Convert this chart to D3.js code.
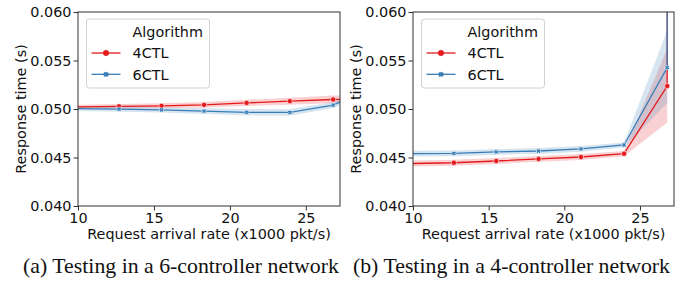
<!DOCTYPE html>
<html>
<head>
<meta charset="UTF-8" />
<script src="https://d3js.org/d3.v7.min.js"></script>
<style>
  body { margin: 0; background: #fff; }
  text { font-family: "DejaVu Sans", sans-serif; }
</style>
</head>
<body>
<div id="chart"></div>
<script>
// x positions of the measurements (x1000 pkt/s)
const rates = [9.9, 12.7, 15.5, 18.3, 21.1, 23.95, 26.8, 29.6];
const seriesNames = ["4CTL", "6CTL"];
const xTicks = [10, 15, 20, 25];
const yTicks = [0.040, 0.045, 0.050, 0.055, 0.060];

// (a) 6-controller network
const a4ctl    = [0.05022, 0.05028, 0.05033, 0.05043, 0.05063, 0.05081, 0.05098, 0.05110];
const a4ctlLo  = [0.05000, 0.05005, 0.05008, 0.05015, 0.05031, 0.05045, 0.05058, 0.05068];
const a4ctlHi  = [0.05044, 0.05051, 0.05058, 0.05071, 0.05095, 0.05117, 0.05138, 0.05152];
const a6ctl    = [0.05005, 0.04998, 0.04990, 0.04979, 0.04966, 0.04965, 0.05040, 0.05240];
const a6ctlLo  = [0.04980, 0.04972, 0.04963, 0.04949, 0.04933, 0.04930, 0.05010, 0.05190];
const a6ctlHi  = [0.05030, 0.05024, 0.05017, 0.05009, 0.04999, 0.05000, 0.05070, 0.05290];

// (b) 4-controller network (last rate shoots far off the chart)
const b4ctl    = [0.04438, 0.04446, 0.04464, 0.04485, 0.04505, 0.04539, 0.05237, 50];
const b4ctlLo  = [0.04408, 0.04416, 0.04434, 0.04455, 0.04475, 0.04512, 0.04860, null];
const b4ctlHi  = [0.04468, 0.04476, 0.04494, 0.04515, 0.04535, 0.04566, 0.05620, null];
const b6ctl    = [0.04539, 0.04543, 0.04557, 0.04567, 0.04588, 0.04629, 0.05426, 50];
const b6ctlLo  = [0.04509, 0.04513, 0.04527, 0.04537, 0.04558, 0.04604, 0.05060, null];
const b6ctlHi  = [0.04569, 0.04573, 0.04587, 0.04597, 0.04618, 0.04654, 0.05810, null];

const colors = { "4CTL": "#e41a1c", "6CTL": "#377eb8" };
const fs = 14.4;

const svg = d3.select("#chart").append("svg")
  .attr("width", 691).attr("height", 282);

const xMarker = "M-1,-2.4L0,-1.4L1,-2.4L2.4,-1L1.4,0L2.4,1L1,2.4L0,1.4L-1,2.4L-2.4,1L-1.4,0L-2.4,-1Z";

function panel(id, left, right, caption, capX, data) {
  const top = 12, bottom = 206;
  const x = d3.scaleLinear().domain([10, 27.25]).range([left, right]);
  const y = d3.scaleLinear().domain([0.040, 0.060]).range([bottom, top]);

  svg.append("clipPath").attr("id", "clip" + id)
    .append("rect").attr("x", left).attr("y", top)
    .attr("width", right - left).attr("height", bottom - top);

  const plot = svg.append("g").attr("clip-path", "url(#clip" + id + ")");

  seriesNames.forEach(name => {
    const s = data[name];
    const pts = rates.map((r, i) => ({ x: r, v: s.v[i], lo: s.lo[i], hi: s.hi[i] }));
    plot.append("path")
      .datum(pts)
      .attr("d", d3.area().defined(d => d.lo != null)
        .x(d => x(d.x)).y0(d => y(d.lo)).y1(d => y(d.hi)))
      .attr("fill", colors[name]).attr("fill-opacity", 0.2);
  });
  seriesNames.forEach(name => {
    const s = data[name];
    const pts = rates.map((r, i) => ({ x: r, v: s.v[i] }));
    plot.append("path")
      .datum(pts)
      .attr("d", d3.line().x(d => x(d.x)).y(d => y(d.v)))
      .attr("fill", "none").attr("stroke", colors[name]).attr("stroke-width", 1.3);
    const m = plot.append("g").selectAll("path").data(pts.slice(1, 7)).join("path")
      .attr("transform", d => `translate(${x(d.x)},${y(d.v)})`)
      .attr("fill", colors[name]).attr("stroke", "#fff").attr("stroke-width", 0.6);
    if (name === "4CTL") m.attr("d", d3.symbol(d3.symbolCircle, 22)());
    else m.attr("d", xMarker);
  });

  // axes
  const gx = svg.append("g").attr("transform", `translate(0,${bottom})`)
    .call(d3.axisBottom(x).tickValues(xTicks).tickSize(4.5).tickPadding(2));
  const gy = svg.append("g").attr("transform", `translate(${left},0)`)
    .call(d3.axisLeft(y).tickValues(yTicks).tickFormat(d3.format(".3f")).tickSize(4.5).tickPadding(2));
  [gx, gy].forEach(g => {
    g.select(".domain").remove();
    g.selectAll("line").attr("stroke", "#333");
    g.selectAll("text").attr("font-size", fs).attr("fill", "#111")
      .style("font-family", "DejaVu Sans");
  });
  svg.append("rect").attr("x", left).attr("y", top)
    .attr("width", right - left).attr("height", bottom - top)
    .attr("fill", "none").attr("stroke", "#333").attr("stroke-width", 1);

  svg.append("text").attr("x", (left + right) / 2).attr("y", 238.5)
    .attr("text-anchor", "middle").attr("font-size", fs).attr("fill", "#111")
    .text("Request arrival rate (x1000 pkt/s)");
  svg.append("text")
    .attr("transform", `translate(${left - 52},${(top + bottom) / 2}) rotate(-90)`)
    .attr("text-anchor", "middle").attr("font-size", fs).attr("fill", "#111")
    .text("Response time (s)");

  // legend
  const lg = svg.append("g").attr("transform", `translate(${left + 8.5},19)`);
  lg.append("rect").attr("width", 123).attr("height", 69).attr("rx", 3)
    .attr("fill", "#fff").attr("fill-opacity", 0.8).attr("stroke", "#d0d0d0");
  lg.append("text").attr("x", 46).attr("y", 17.5).attr("font-size", fs).attr("fill", "#111")
    .text("Algorithm");
  seriesNames.forEach((name, i) => {
    const cy = 34 + i * 21.3;
    lg.append("line").attr("x1", 5).attr("x2", 34).attr("y1", cy).attr("y2", cy)
      .attr("stroke", colors[name]).attr("stroke-width", 1.3);
    const mk = lg.append("path").attr("transform", `translate(19.5,${cy})`)
      .attr("fill", colors[name]).attr("stroke", colors[name]).attr("stroke-width", 0.6);
    if (name === "4CTL") mk.attr("d", d3.symbol(d3.symbolCircle, 24)());
    else mk.attr("d", xMarker);
    lg.append("text").attr("x", 46).attr("y", cy + 5.2).attr("font-size", fs)
      .attr("fill", "#111").text(name);
  });

  svg.append("text").attr("x", capX).attr("y", 272.5)
    .attr("text-anchor", "middle").attr("font-size", 21.8)
    .style("font-family", "Liberation Serif, Times New Roman, serif")
    .attr("fill", "#111").text(caption);
}

panel("a", 78, 340, "(a) Testing in a 6-controller network", 181, {
  "4CTL": { v: a4ctl, lo: a4ctlLo, hi: a4ctlHi },
  "6CTL": { v: a6ctl, lo: a6ctlLo, hi: a6ctlHi }
});
panel("b", 413, 674, "(b) Testing in a 4-controller network", 511.5, {
  "4CTL": { v: b4ctl, lo: b4ctlLo, hi: b4ctlHi },
  "6CTL": { v: b6ctl, lo: b6ctlLo, hi: b6ctlHi }
});
</script>
</body>
</html>
